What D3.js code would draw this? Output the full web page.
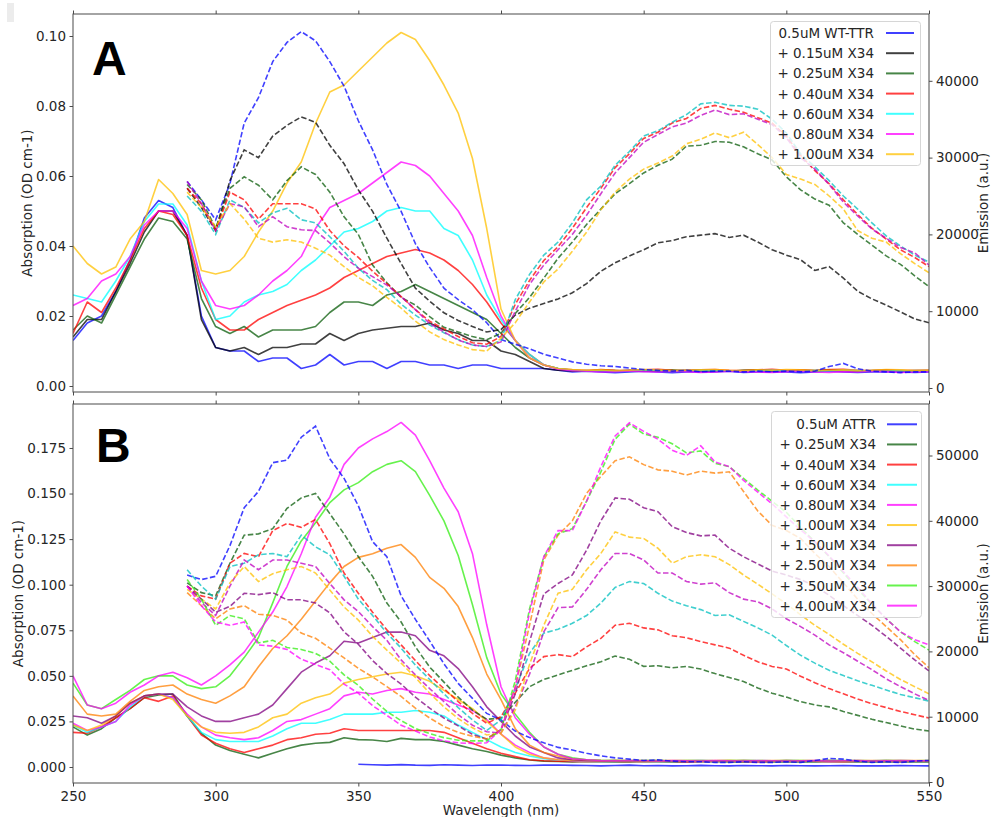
<!DOCTYPE html>
<html>
<head>
<meta charset="utf-8">
<script src="https://cdn.jsdelivr.net/npm/d3@7"></script>
<style>
  body { margin: 0; background: #fff; }
  svg { display: block; font-family: "DejaVu Sans", sans-serif; }
</style>
</head>
<body>
<svg id="chart" width="992" height="817"></svg>
<script>
// wavelength grids (nm)
const wlAbs = [250,255,260,265,270,275,280,285,290,295,300,305,310,315,320,325,330,335,340,345,
  350,355,360,365,370,375,380,385,390,395,400,405,410,415,420,425,430,435,440,445,
  450,455,460,465,470,475,480,485,490,495,500,505,510,515,520,525,530,535,540,545,550];
const wlEm = [290,295,300,305,310,315,320,325,330,335,340,345,350,355,360,365,370,375,380,385,
  390,395,400,405,410,415,420,425,430,435,440,445,450,455,460,465,470,475,480,485,
  490,495,500,505,510,515,520,525,530,535,540,545,550];

const xTicks = [250, 300, 350, 400, 450, 500, 550];

// ---- panel A: absorption (OD cm-1) ----
const absA_blue = [0.013,0.018,0.020,0.027,0.036,0.048,0.053,0.051,0.043,0.020, 0.011,0.010,0.010,0.007,0.008,0.008,0.005,0.006,0.009,0.006,
  0.007,0.007,0.005,0.007,0.007,0.006,0.006,0.005,0.006,0.006, 0.005,0.005,0.005,0.005,0.0045,0.004,0.0042,0.004,0.0038,0.004,
  0.0042,0.004,0.0038,0.004,0.0041,0.004,0.0042,0.0039,0.004,0.0041, 0.004,0.0038,0.004,0.0042,0.004,0.0039,0.004,0.0041,0.004,0.0039, 0.004];
const absA_black = [0.014,0.019,0.019,0.027,0.035,0.044,0.050,0.050,0.043,0.019, 0.011,0.010,0.011,0.009,0.011,0.011,0.012,0.012,0.015,0.013,
  0.015,0.016,0.0165,0.017,0.017,0.018,0.016,0.015,0.013,0.013, 0.010,0.009,0.007,0.005,0.0045,0.0043,0.0044,0.0042,0.0043,0.0045,
  0.0044,0.0042,0.0043,0.0045,0.0044,0.0043,0.0042,0.0044,0.0045,0.0043, 0.0042,0.0044,0.0043,0.0045,0.0044,0.0042,0.0043,0.0044,0.0042,0.0043, 0.0042];
const absA_green = [0.016,0.020,0.018,0.026,0.034,0.042,0.048,0.047,0.042,0.025, 0.017,0.015,0.017,0.014,0.016,0.016,0.016,0.017,0.021,0.024,
  0.024,0.023,0.026,0.027,0.029,0.027,0.025,0.023,0.021,0.019, 0.015,0.011,0.008,0.006,0.005,0.0045,0.0043,0.0046,0.0044,0.0042,
  0.0045,0.0044,0.0046,0.0043,0.0045,0.0044,0.0042,0.0045,0.0046,0.0044, 0.0043,0.0045,0.0044,0.0046,0.0045,0.0043,0.0044,0.0045,0.0043,0.0044, 0.0044];
const absA_red = [0.015,0.024,0.021,0.028,0.036,0.045,0.050,0.049,0.043,0.028, 0.019,0.016,0.016,0.019,0.021,0.023,0.0245,0.026,0.028,0.031,
  0.033,0.035,0.037,0.038,0.039,0.038,0.036,0.033,0.029,0.024, 0.018,0.013,0.009,0.006,0.005,0.0046,0.0044,0.0047,0.0045,0.0044,
  0.0046,0.0048,0.0045,0.0044,0.0046,0.0047,0.0045,0.0044,0.0046,0.0048, 0.0045,0.0046,0.0044,0.0047,0.0048,0.0045,0.0044,0.0046,0.0045,0.0044, 0.0045];
const absA_cyan = [0.026,0.025,0.024,0.030,0.037,0.047,0.052,0.052,0.046,0.030, 0.019,0.020,0.024,0.026,0.027,0.029,0.033,0.036,0.040,0.044,
  0.045,0.047,0.050,0.051,0.050,0.050,0.045,0.043,0.036,0.026, 0.019,0.013,0.009,0.006,0.005,0.0045,0.0043,0.0044,0.0042,0.0043,
  0.0045,0.0044,0.0042,0.0043,0.0045,0.0044,0.0043,0.0042,0.0044,0.0045, 0.0043,0.0042,0.0044,0.0043,0.0045,0.0044,0.0042,0.0043,0.0044,0.0042, 0.0043];
const absA_magenta = [0.023,0.025,0.030,0.032,0.037,0.046,0.050,0.050,0.045,0.030, 0.023,0.022,0.023,0.026,0.030,0.033,0.037,0.045,0.051,0.053,
  0.055,0.058,0.061,0.064,0.063,0.060,0.055,0.050,0.043,0.031, 0.020,0.013,0.008,0.006,0.0048,0.0044,0.0042,0.0040,0.0041,0.0043,
  0.0041,0.0040,0.0042,0.0041,0.0039,0.0040,0.0042,0.0041,0.0040,0.0039, 0.0041,0.0042,0.0040,0.0039,0.0041,0.0040,0.0042,0.0041,0.0039,0.0040, 0.0041];
const absA_gold = [0.040,0.035,0.032,0.034,0.042,0.047,0.059,0.055,0.049,0.033, 0.032,0.033,0.037,0.044,0.050,0.058,0.064,0.075,0.084,0.086,
  0.090,0.094,0.098,0.101,0.099,0.093,0.086,0.078,0.065,0.045, 0.022,0.013,0.008,0.006,0.005,0.0047,0.0045,0.0046,0.0044,0.0045,
  0.0047,0.0046,0.0044,0.0045,0.0046,0.0047,0.0045,0.0044,0.0046,0.0045, 0.0047,0.0046,0.0044,0.0045,0.0046,0.0044,0.0045,0.0047,0.0046,0.0044, 0.0045];

// ---- panel A: emission (a.u.) ----
const emA_blue = [26900,24500,21900,26600,34500,37800,42500,45000,46400,45200,42500,
  39300,34800,31000,26500,23000,18800,15700,13000,11500,10200,8500,
  6300,5700,5100,4400,3900,3400,3100,2900,2800,2600,2400,
  2300,2200,2300,2100,2200,2200,2100,2200,2100,2200,2100,
  2200,2800,3200,2500,2200,2100,2000,2100,2100];
const emA_black = [26000,23500,20500,27000,31000,30000,32800,34200,35300,34600,31600,
  29200,25800,23000,19500,16200,13000,11300,9800,8800,8000,7300,
  7600,9500,10400,11000,11600,12400,13600,15200,16300,17200,18000,
  18900,19200,19700,19900,20100,19600,19900,19000,18000,17300,16700,
  15300,15800,14300,12600,11600,10800,9900,9000,8500];
const emA_green = [26500,24500,20800,26000,27500,26400,24500,27000,28800,27800,25500,
  22300,20000,16000,13700,11800,10800,9300,7900,7300,6700,6300,
  7100,9700,11800,14300,16900,19000,21300,23300,25300,26600,28000,
  29000,29800,31500,31600,32100,32000,31400,30500,29700,27500,25800,
  24600,23800,21500,20000,18600,17200,16100,14600,13200];
const emA_red = [26000,24000,20500,25500,24500,22000,24000,24000,24000,23300,20500,
  18500,17000,15200,13600,11900,10200,8700,7700,6700,5900,5700,
  6700,10900,14000,16600,18400,20800,23500,26000,28700,30500,32500,
  33300,34500,35100,36400,36800,36300,35900,35200,34500,32800,30300,
  28300,26600,24500,22600,20800,19400,18000,17000,15800];
const emA_cyan = [25000,23000,20000,24500,23500,21500,22800,23400,21900,21500,19700,
  17800,15600,14000,12800,10900,9500,8200,7200,6300,5600,5400,
  6200,11500,14800,17300,19000,21500,24500,26300,29000,30800,32800,
  33500,34600,35600,37000,37200,36800,36700,36300,35000,33200,30500,
  28800,27000,25000,23300,21500,19800,18500,17300,16400];
const emA_magenta = [26900,24000,20500,24000,23600,21000,22300,21000,20600,20500,18900,
  17100,15600,14500,13400,11900,10200,8400,7300,6250,5600,5400,
  6000,10000,13500,16000,18000,20000,22500,25300,28000,30000,32000,
  33000,34000,34500,35500,36200,35600,35700,35000,34300,32600,30000,
  28500,26500,24200,22400,20700,19500,18300,17600,16000];
const emA_gold = [25500,23500,21000,24000,22000,19500,19000,19300,19000,18200,17300,
  15800,14400,13300,11800,10400,8700,7300,6300,5600,5000,4800,
  6500,8500,11200,13800,15500,17800,20300,23200,25500,27200,28500,
  29300,30200,31800,32400,33200,32600,33300,31700,30000,27800,27200,
  26500,25000,23300,20500,19500,19000,17500,16200,15000];

// ---- panel B: absorption (OD cm-1) ----
const absB_blue = [null,null,null,null,null,null,null,null,null,null, null,null,null,null,null,null,null,null,null,null,
  0.0015,0.0012,0.0010,0.0013,0.0010,0.0009,0.0012,0.0010,0.0008,0.0011, 0.0010,0.0009,0.0008,0.0010,0.0011,0.0009,0.0008,0.0006,0.0008,0.0010,
  0.0007,0.0008,0.0006,0.0007,0.0009,0.0007,0.0006,0.0008,0.0007,0.0006, 0.0008,0.0007,0.0006,0.0007,0.0008,0.0006,0.0007,0.0006,0.0008,0.0007, 0.0006];
const absB_green = [0.022,0.0175,0.021,0.027,0.032,0.038,0.0395,0.040,0.028,0.0185, 0.012,0.009,0.007,0.005,0.0075,0.010,0.012,0.013,0.0135,0.016,
  0.015,0.0148,0.014,0.0157,0.015,0.015,0.014,0.012,0.010,0.0085, 0.0065,0.005,0.0038,0.0032,0.003,0.0028,0.003,0.0029,0.0027,0.0028,
  0.003,0.0029,0.0028,0.0027,0.0029,0.003,0.0028,0.0027,0.0029,0.0028, 0.0027,0.0029,0.0028,0.003,0.0029,0.0027,0.0028,0.0029,0.0028,0.0027, 0.0028];
const absB_red = [0.019,0.0185,0.022,0.027,0.032,0.038,0.036,0.039,0.028,0.0175, 0.013,0.010,0.008,0.010,0.012,0.015,0.016,0.018,0.0185,0.021,
  0.020,0.020,0.020,0.020,0.020,0.020,0.019,0.016,0.013,0.010, 0.0075,0.0057,0.004,0.0034,0.0032,0.003,0.0031,0.003,0.0032,0.0031,
  0.003,0.0032,0.0031,0.0029,0.003,0.0031,0.0032,0.003,0.0029,0.0031, 0.003,0.0032,0.0031,0.003,0.0029,0.0031,0.003,0.0032,0.0031,0.003, 0.003];
const absB_cyan = [0.023,0.019,0.022,0.025,0.033,0.039,0.040,0.038,0.028,0.019, 0.015,0.014,0.014,0.014,0.017,0.021,0.024,0.024,0.026,0.029,
  0.029,0.029,0.030,0.030,0.031,0.030,0.028,0.023,0.019,0.015, 0.011,0.008,0.006,0.0045,0.0038,0.0034,0.0032,0.003,0.0031,0.0033,
  0.0032,0.003,0.0031,0.0033,0.0032,0.003,0.0031,0.0032,0.0033,0.0031, 0.003,0.0032,0.0031,0.0033,0.0032,0.003,0.0031,0.0032,0.003,0.0031, 0.0031];
const absB_mag8 = [0.024,0.020,0.022,0.025,0.034,0.039,0.040,0.038,0.029,0.022, 0.0175,0.016,0.015,0.016,0.020,0.025,0.026,0.029,0.032,0.039,
  0.041,0.040,0.042,0.043,0.041,0.040,0.037,0.034,0.031,0.026, 0.018,0.012,0.008,0.005,0.004,0.0035,0.0033,0.0032,0.0034,0.0033,
  0.0032,0.0034,0.0033,0.0031,0.0032,0.0034,0.0033,0.0032,0.0031,0.0033, 0.0034,0.0032,0.0033,0.0031,0.0032,0.0034,0.0033,0.0032,0.0031,0.0033, 0.0032];
const absB_gold = [0.023,0.020,0.023,0.028,0.035,0.039,0.040,0.037,0.028,0.022, 0.019,0.0185,0.019,0.022,0.027,0.029,0.035,0.038,0.040,0.046,
  0.048,0.0495,0.051,0.052,0.050,0.047,0.042,0.037,0.032,0.025, 0.018,0.011,0.007,0.005,0.004,0.0036,0.0034,0.0033,0.0035,0.0034,
  0.0033,0.0035,0.0034,0.0033,0.0032,0.0034,0.0035,0.0033,0.0034,0.0032, 0.0033,0.0035,0.0034,0.0033,0.0032,0.0034,0.0033,0.0035,0.0034,0.0033, 0.0033];
const absB_purple = [0.028,0.027,0.024,0.028,0.035,0.039,0.040,0.040,0.033,0.028, 0.025,0.025,0.027,0.029,0.034,0.043,0.052,0.057,0.061,0.069,
  0.068,0.071,0.074,0.074,0.072,0.064,0.061,0.054,0.044,0.033, 0.025,0.017,0.011,0.008,0.005,0.004,0.0036,0.0034,0.0035,0.0033,
  0.0034,0.0035,0.0033,0.0034,0.0036,0.0034,0.0033,0.0035,0.0034,0.0033, 0.0035,0.0034,0.0033,0.0035,0.0034,0.0033,0.0034,0.0035,0.0033,0.0034, 0.0034];
const absB_orange = [0.039,0.029,0.028,0.029,0.036,0.042,0.044,0.045,0.040,0.037, 0.035,0.039,0.044,0.055,0.065,0.072,0.081,0.091,0.101,0.110,
  0.115,0.117,0.120,0.122,0.115,0.104,0.098,0.088,0.071,0.051, 0.037,0.021,0.012,0.008,0.006,0.0045,0.004,0.0037,0.0036,0.0035,
  0.0036,0.0034,0.0035,0.0036,0.0034,0.0035,0.0036,0.0035,0.0034,0.0036, 0.0035,0.0034,0.0036,0.0035,0.0034,0.0036,0.0035,0.0034,0.0035,0.0036, 0.0035];
const absB_lime = [0.046,0.034,0.032,0.037,0.042,0.048,0.050,0.050,0.045,0.043, 0.044,0.050,0.060,0.071,0.090,0.110,0.124,0.134,0.145,0.152,
  0.156,0.162,0.166,0.168,0.162,0.149,0.135,0.116,0.089,0.060, 0.040,0.029,0.019,0.011,0.007,0.005,0.004,0.0037,0.0036,0.0035,
  0.0036,0.0035,0.0034,0.0036,0.0035,0.0034,0.0036,0.0035,0.0036,0.0034, 0.0035,0.0036,0.0034,0.0035,0.0036,0.0035,0.0034,0.0036,0.0035,0.0034, 0.0035];
const absB_mag4 = [0.050,0.034,0.032,0.035,0.041,0.045,0.050,0.052,0.049,0.045, 0.050,0.056,0.063,0.074,0.085,0.099,0.117,0.137,0.148,0.166,
  0.175,0.180,0.184,0.189,0.182,0.168,0.153,0.140,0.117,0.078, 0.044,0.027,0.018,0.011,0.007,0.0045,0.004,0.0036,0.0034,0.0035,
  0.0034,0.0033,0.0035,0.0034,0.0033,0.0035,0.0034,0.0033,0.0035,0.0034, 0.0033,0.0034,0.0035,0.0033,0.0034,0.0035,0.0033,0.0034,0.0035,0.0034, 0.0034];

// ---- panel B: emission (a.u.) ----
const emB_blue = [31700,31000,31500,36200,42000,44500,48900,49300,52800,54500,49500,
  46500,42300,36800,34500,28500,24900,21600,18100,15100,12800,10500,
  9500,7800,6800,6000,5300,4900,4400,4000,3700,3500,3300,
  3400,3200,3100,3100,3000,3000,3100,3000,3000,3100,3000,
  3300,3600,3500,3200,3000,3100,3000,3200,3300];
const emB_green = [30500,29000,28500,33500,37800,38000,38800,41900,43500,44200,41100,
  38000,34500,31500,27400,24500,20700,17600,15300,13000,11000,9600,
  9800,12200,14600,15700,16400,17100,17800,18400,19300,18800,17700,
  17800,17500,17700,17300,16600,16000,15400,14400,13600,13000,12300,
  11800,11500,10800,10200,9600,9100,8600,8100,7800];
const emB_red = [30000,28500,28000,33500,35000,34500,38500,39600,39000,40200,36500,
  32000,28900,26000,23300,21000,18600,16300,14300,12300,10500,9000,
  10000,13600,17400,19200,19500,19200,20700,22000,24000,24300,23600,
  23300,22400,22100,21500,21000,20500,19400,18400,17700,17300,16200,
  15200,14300,13500,12700,12000,11400,10800,10300,9800];
const emB_cyan = [32500,30000,28000,33000,33500,34800,35000,34500,37800,36000,34800,
  31500,28000,25500,22800,20500,17900,15700,13500,11400,9500,7900,
  9500,14300,19700,22800,23400,24300,25500,27400,29800,30700,30400,
  28900,27700,27000,26400,25500,25600,24600,23600,22500,20900,19400,
  18200,17100,16300,15500,14800,14100,13400,12900,12400];
const emB_mag8 = [30000,27500,25500,30000,34000,32500,34000,34000,33500,33000,30400,
  27900,26100,23800,21700,18700,16400,14300,12300,10300,8700,7700,
  7500,11500,16500,23000,26700,26800,29500,32500,35000,35000,34000,
  32000,32000,30700,30300,30500,29000,28000,27600,26500,25000,23800,
  22500,21000,19800,18500,17200,15800,14600,13500,12500];
const emB_gold = [29500,28000,26500,30500,33000,30700,31900,32500,33000,32000,29400,
  26800,24800,22300,20200,18200,16000,13600,11500,9700,8300,7200,
  7500,11000,18000,24000,28900,29500,32500,35000,38300,37500,37300,
  35800,33500,34500,34800,34500,33300,31700,30300,28800,27300,25600,
  24000,22600,21100,19700,18400,17000,15700,14600,13500];
const emB_purple = [30000,28000,26000,26900,28900,28700,29000,27900,27900,27400,25900,
  23000,21100,18600,16600,15000,13000,11300,9800,8600,7300,6600,
  8000,13500,21500,28800,30400,31700,35500,40000,43500,43300,42000,
  41400,39100,38200,37700,37800,35800,34500,33400,32300,31700,31000,
  30000,28600,27000,25500,24000,22300,20500,18700,17000];
const emB_orange = [29000,27000,25000,26500,27000,25700,25500,24800,22800,22000,20500,
  19000,17400,16100,14600,13100,11300,9800,8500,7600,7000,6600,
  8000,14500,24000,34000,37800,40000,44200,46800,49200,49800,48600,
  47800,47600,47000,47600,47300,47500,44500,41500,39300,38500,37300,
  35000,33000,30500,28000,25800,23800,21800,19500,17500];
const emB_lime = [31000,28000,24000,25500,25000,21300,21700,20600,20300,19700,18500,
  16400,14800,12700,10800,9400,8200,7400,6800,6400,6300,6300,
  8000,15500,26500,34500,38000,38800,43000,47500,52500,54800,53300,
  52800,51800,50400,50700,48800,48300,46500,44700,43000,41300,39000,
  36800,34500,32000,29500,27200,25000,23000,21500,20200];
const emB_mag4 = [30000,27000,24500,24000,24500,21000,20800,20300,18800,18000,17200,
  15000,13600,11700,10200,8700,7800,6900,6300,6000,5900,6000,
  8000,14500,26000,34500,38500,38500,43000,48300,53000,55000,53700,
  52500,50800,50000,51500,49000,48300,46200,44400,42600,40600,38600,
  36800,34600,32200,29800,27300,25000,23000,21800,21000];

// legend labels
const labelsA = ['0.5uM WT-TTR', '+ 0.15uM X34', '+ 0.25uM X34', '+ 0.40uM X34', '+ 0.60uM X34', '+ 0.80uM X34', '+ 1.00uM X34'];
const labelsB = ['0.5uM ATTR', '+ 0.25uM X34', '+ 0.40uM X34', '+ 0.60uM X34', '+ 0.80uM X34', '+ 1.00uM X34',
  '+ 1.50uM X34', '+ 2.50uM X34', '+ 3.50uM X34', '+ 4.00uM X34'];

const C = {
  blue: '#0000ff', black: '#000000', green: '#0a5c0a', red: '#ff0000', cyan: '#00ffff',
  teal: '#00bfbf', magenta: '#ff00ff', violet: '#bf00bf', gold: '#ffc000',
  purple: '#800080', orange: '#ff7f00', lime: '#33ee11'
};

const svg = d3.select('#chart');
const defs = svg.append('defs');
const x = d3.scaleLinear().domain([250, 550]).range([73, 929]);

// sanity check on the typed arrays
function checkLen(arr, n, name) {
  if (arr.length !== n) throw new Error(name + ' has ' + arr.length + ' values, expected ' + n);
}

/**
 * draws one panel: absorption (left axis, solid) + emission (right axis, dashed)
 */
function drawPanel(p) {
  const yL = d3.scaleLinear().domain(p.absDomain).range([p.bottom, p.top]);
  const yR = d3.scaleLinear().domain(p.emDomain).range([p.bottom, p.top]);

  defs.append('clipPath').attr('id', 'clip-' + p.id)
    .append('rect')
    .attr('x', 73).attr('y', p.top)
    .attr('width', 856).attr('height', p.bottom - p.top);

  const plot = svg.append('g').attr('clip-path', `url(#clip-${p.id})`);

  const absLine = d3.line()
    .defined(d => d[1] != null)
    .x(d => x(d[0]))
    .y(d => yL(d[1]));
  const emLine = d3.line()
    .x(d => x(d[0]))
    .y(d => yR(d[1]));

  p.series.forEach(s => {
    checkLen(s.abs, wlAbs.length, p.id + ' ' + s.label);
    plot.append('path')
      .datum(d3.zip(wlAbs, s.abs))
      .attr('d', absLine)
      .attr('fill', 'none')
      .attr('stroke', s.color)
      .attr('stroke-opacity', 0.75)
      .attr('stroke-width', 1.6)
      .attr('stroke-linejoin', 'round');
  });
  p.series.forEach(s => {
    checkLen(s.em, wlEm.length, p.id + ' em ' + s.label);
    plot.append('path')
      .datum(d3.zip(wlEm, s.em))
      .attr('d', emLine)
      .attr('fill', 'none')
      .attr('stroke', s.emColor || s.color)
      .attr('stroke-opacity', 0.75)
      .attr('stroke-width', 1.6)
      .attr('stroke-dasharray', '5.5,2.4');
  });

  // frame
  svg.append('rect')
    .attr('x', 73).attr('y', p.top)
    .attr('width', 856).attr('height', p.bottom - p.top)
    .attr('fill', 'none').attr('stroke', '#4a4a4a').attr('stroke-width', 1);

  const styleAxis = g => {
    g.select('.domain').remove();
    g.selectAll('line').attr('stroke', '#4a4a4a');
    g.selectAll('text').attr('fill', '#262626').style('font-size', '13.5px').style('font-family', '"DejaVu Sans", sans-serif');
  };

  svg.append('g').attr('transform', 'translate(73,0)')
    .call(d3.axisLeft(yL).tickValues(p.absTicks).tickFormat(d3.format(p.absFmt)).tickSize(3.5).tickPadding(3.5))
    .call(styleAxis);
  svg.append('g').attr('transform', 'translate(929,0)')
    .call(d3.axisRight(yR).tickValues(p.emTicks).tickFormat(d3.format('d')).tickSize(3.5).tickPadding(3.5))
    .call(styleAxis);
  svg.append('g').attr('transform', `translate(0,${p.bottom})`)
    .call(d3.axisBottom(x).tickValues(xTicks).tickFormat(p.xLabels ? d3.format('d') : '').tickSize(3.5).tickPadding(4.5))
    .call(styleAxis);
  svg.append('g').attr('transform', `translate(0,${p.top})`)
    .call(d3.axisTop(x).tickValues(xTicks).tickFormat('').tickSize(3.5))
    .call(styleAxis);

  // axis titles
  svg.append('text')
    .attr('transform', `translate(${p.yLabelX},${(p.top + p.bottom) / 2}) rotate(-90)`)
    .attr('text-anchor', 'middle').attr('dominant-baseline', 'central')
    .attr('fill', '#262626').style('font-size', '13.5px')
    .text('Absorption (OD cm-1)');
  svg.append('text')
    .attr('transform', `translate(983,${(p.top + p.bottom) / 2}) rotate(-90)`)
    .attr('text-anchor', 'middle').attr('dominant-baseline', 'central')
    .attr('fill', '#262626').style('font-size', '13.5px')
    .text('Emission (a.u.)');

  // panel letter
  svg.append('text')
    .attr('x', p.letterX).attr('y', p.letterY)
    .attr('fill', '#000')
    .style('font-family', '"Liberation Sans", Arial, sans-serif')
    .style('font-weight', 'bold').style('font-size', '48px')
    .text(p.id);

  // legend
  const lg = p.legend;
  svg.append('rect')
    .attr('x', lg.x).attr('y', lg.y)
    .attr('width', lg.w).attr('height', lg.h)
    .attr('rx', 3)
    .attr('fill', '#fff').attr('fill-opacity', 0.8)
    .attr('stroke', '#d6d6d6');
  const rows = svg.append('g').selectAll('g')
    .data(p.series)
    .join('g')
    .attr('transform', (d, i) => `translate(0,${lg.row0 + i * lg.step})`);
  rows.append('text')
    .attr('x', lg.textRight)
    .attr('text-anchor', 'end').attr('dominant-baseline', 'central')
    .attr('fill', '#262626').style('font-size', '13.5px')
    .text(d => d.label);
  rows.append('line')
    .attr('x1', lg.line0).attr('x2', lg.line1)
    .attr('stroke', d => d.color).attr('stroke-opacity', 0.75)
    .attr('stroke-width', 2);
}

const absA = [absA_blue, absA_black, absA_green, absA_red, absA_cyan, absA_magenta, absA_gold];
const emA = [emA_blue, emA_black, emA_green, emA_red, emA_cyan, emA_magenta, emA_gold];
const colorsA = [C.blue, C.black, C.green, C.red, C.cyan, C.magenta, C.gold];
const emColorsA = [C.blue, C.black, C.green, C.red, C.teal, C.violet, C.gold];

const absB = [absB_blue, absB_green, absB_red, absB_cyan, absB_mag8, absB_gold, absB_purple, absB_orange, absB_lime, absB_mag4];
const emB = [emB_blue, emB_green, emB_red, emB_cyan, emB_mag8, emB_gold, emB_purple, emB_orange, emB_lime, emB_mag4];
const colorsB = [C.blue, C.green, C.red, C.cyan, C.magenta, C.gold, C.purple, C.orange, C.lime, C.magenta];
const emColorsB = [C.blue, C.green, C.red, C.teal, C.violet, C.gold, C.purple, C.orange, C.lime, C.magenta];

// faint grey mark in the top-left corner of the original figure
svg.append('rect').attr('x', 7).attr('y', 3).attr('width', 7).attr('height', 19).attr('fill', '#ececec');

drawPanel({
  id: 'A', top: 14, bottom: 392,
  absDomain: [-0.00171, 0.10629], emDomain: [-521, 48698],
  absTicks: [0, 0.02, 0.04, 0.06, 0.08, 0.10], absFmt: '.2f',
  emTicks: [0, 10000, 20000, 30000, 40000],
  xLabels: false, yLabelX: 27, letterX: 92, letterY: 75,
  series: labelsA.map((label, i) => ({ label, color: colorsA[i], emColor: emColorsA[i], abs: absA[i], em: emA[i] })),
  legend: { x: 770.5, y: 21.5, w: 150, h: 144, row0: 33, step: 20.2, textRight: 874, line0: 886, line1: 914 }
});

drawPanel({
  id: 'B', top: 404, bottom: 783,
  absDomain: [-0.00878, 0.19912], emDomain: [-153, 57887],
  absTicks: [0, 0.025, 0.05, 0.075, 0.1, 0.125, 0.15, 0.175], absFmt: '.3f',
  emTicks: [0, 10000, 20000, 30000, 40000, 50000],
  xLabels: true, yLabelX: 18, letterX: 96, letterY: 462,
  series: labelsB.map((label, i) => ({ label, color: colorsB[i], emColor: emColorsB[i], abs: absB[i], em: emB[i] })),
  legend: { x: 771.5, y: 411.5, w: 150, h: 206, row0: 424.3, step: 20.15, textRight: 876, line0: 887, line1: 917 }
});

svg.append('text')
  .attr('x', 501).attr('y', 810)
  .attr('text-anchor', 'middle').attr('dominant-baseline', 'central')
  .attr('fill', '#262626').style('font-size', '13.5px')
  .text('Wavelength (nm)');
</script>
</body>
</html>
